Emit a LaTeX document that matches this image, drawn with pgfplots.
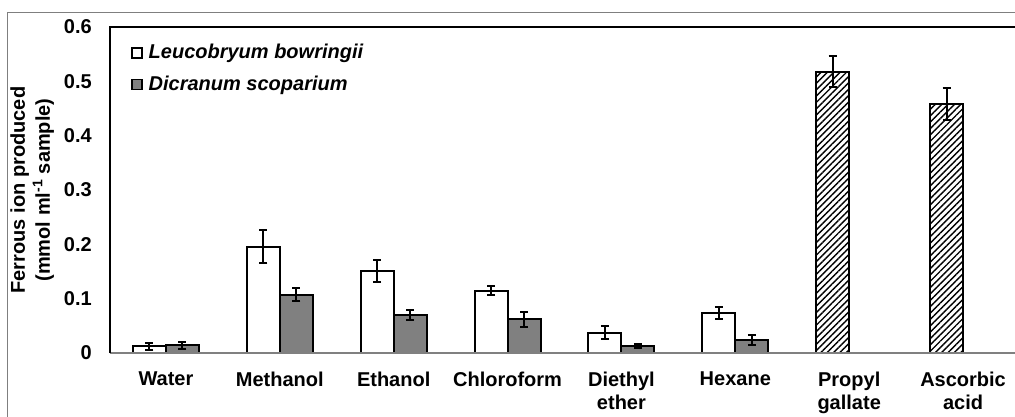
\documentclass[border=0pt]{standalone}
\usepackage{fontspec}
\setmainfont{Liberation Sans}
\usepackage{pgfplots}
\pgfplotsset{compat=1.18}
\usetikzlibrary{patterns.meta}
\definecolor{bargray}{HTML}{808080}
\definecolor{framegray}{HTML}{7F7F7F}
\begin{document}
\fontsize{20}{24}\selectfont\bfseries
\begin{tikzpicture}
\useasboundingbox (0pt,0pt) rectangle (1015pt,416pt);
\draw[framegray, line width=1.2pt] (7.5pt,-5pt) -- (7.5pt,403.5pt) -- (1020pt,403.5pt);
\begin{axis}[
  at={(110pt,63pt)}, anchor=south west,
  scale only axis, width=905pt, height=326pt,
  xmin=-0.491, xmax=7.456, ymin=0, ymax=0.6,
  axis line style={draw=none},
  ytick={0,0.1,0.2,0.3,0.4,0.5,0.6},
  yticklabels={0,0.1,0.2,0.3,0.4,0.5,0.6},
  xtick={0,1,2,3,4,5,6,7},
  xticklabels={Water,Methanol,Ethanol,Chloroform,Diethyl\\ether,Hexane,Propyl\\gallate,Ascorbic\\acid},
  major tick length=0pt,
  tick style={draw=none},
  yticklabel style={font=\fontsize{20}{24}\selectfont\bfseries, inner sep=0pt, xshift=-18pt, anchor=east},
  xticklabel style={font=\fontsize{20}{23}\selectfont\bfseries, align=center, inner sep=0pt, yshift=-19pt, anchor=north},
  ylabel={Ferrous ion produced\\(mmol ml\textsuperscript{-1} sample)},
  ylabel style={font=\fontsize{20}{25}\selectfont\bfseries, align=center, at={(axis description cs:-0.0860,0.5)}, anchor=center, rotate=0},
  ybar, bar width=33pt,
  legend style={at={(axis description cs:0,1)}, anchor=north west, xshift=18pt, yshift=-13pt, draw=none, fill=none,
    font=\fontsize{20}{24}\selectfont\bfseries\itshape, row sep=10pt,
    nodes={inner sep=2pt}},
  legend cell align=left,
  legend image code/.code={\draw[#1, line width=1.5pt] (-2pt,-5pt) rectangle (8pt,5pt);},
  clip=false,
  error bars/error bar style={line width=2pt, black},
  error bars/error mark options={rotate=90, line width=2pt, black, mark size=4pt},
]
\addplot+[bar shift=-16.5pt, draw=black, fill=white, line width=2pt,
  error bars/.cd, y dir=both, y explicit]
  coordinates {
  (0,0.012) +- (0,0.006)
  (1,0.196) +- (0,0.030)
  (2,0.151) +- (0,0.021)
  (3,0.115) +- (0,0.008)
  (4,0.037) +- (0,0.012)
  (5,0.073) +- (0,0.011)
  };
\addlegendentry{\hspace*{4pt}Leucobryum bowringii}
\addplot+[bar shift=16.5pt, draw=black, fill=bargray, line width=2pt,
  error bars/.cd, y dir=both, y explicit]
  coordinates {
  (0,0.014) +- (0,0.007)
  (1,0.107) +- (0,0.012)
  (2,0.070) +- (0,0.010)
  (3,0.062) +- (0,0.014)
  (4,0.013) +- (0,0.003)
  (5,0.024) +- (0,0.010)
  };
\addlegendentry{\hspace*{4pt}Dicranum scoparium}
\addplot+[bar shift=-16.5pt, draw=black, fill=white, line width=2pt,
  postaction={pattern={Lines[angle=45, distance=4.5pt, line width=1.4pt]}},
  forget plot,
  error bars/.cd, y dir=both, y explicit]
  coordinates {
  (6,0.518) +- (0,0.028)
  (7,0.458) +- (0,0.029)
  };
\draw[bargray, line width=1.5pt] (rel axis cs:0,0) -- (rel axis cs:1.01,0);
\draw[black, line width=2pt] (rel axis cs:0,0) -- (rel axis cs:0,1) -- (rel axis cs:1.01,1);
\end{axis}
\end{tikzpicture}
\end{document}
